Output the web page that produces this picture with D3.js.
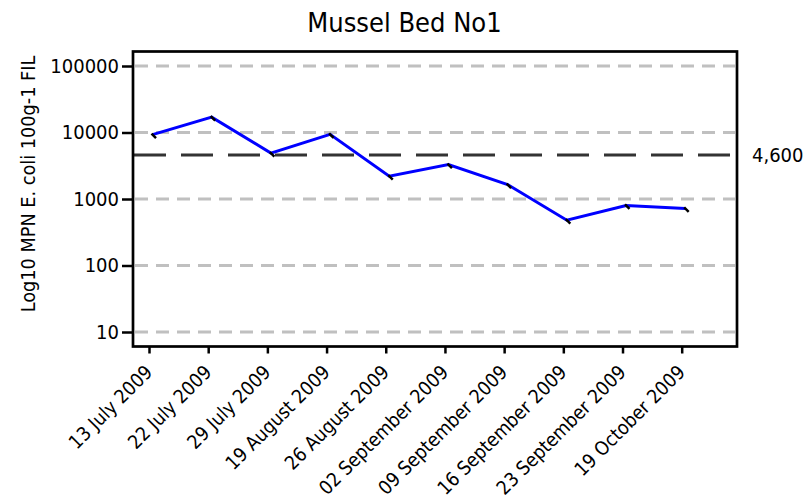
<!DOCTYPE html>
<html>
<head>
<meta charset="utf-8">
<script src="https://cdn.jsdelivr.net/npm/d3@7"></script>
<style>
  html, body { margin: 0; padding: 0; background: #fff; }
  svg text { font-family: "DejaVu Sans Condensed", "DejaVu Sans", sans-serif; font-stretch: condensed; fill: #000; }
</style>
</head>
<body>
<svg id="chart" width="809" height="503"></svg>
<script>
// Sampling dates (x categories)
const dates = [
  "13 July 2009", "22 July 2009", "29 July 2009", "19 August 2009",
  "26 August 2009", "02 September 2009", "09 September 2009",
  "16 September 2009", "23 September 2009", "19 October 2009"
];
// E. coli results, MPN per 100 g FIL
const ecoli = [9300, 17000, 4900, 9400, 2200, 3300, 1650, 480, 800, 720];
// Log-axis tick values
const yTicks = [10, 100, 1000, 10000, 100000];
// Reference threshold
const threshold = 4600;

const svg = d3.select("#chart");

const frame = { left: 133, right: 737, top: 51.5, bottom: 346.5 };

const x = d3.scalePoint().domain(dates).range([149, 681.7]);
const y = d3.scaleLog().domain([10, 100000]).range([332, 66]);

// Title
svg.append("text")
  .attr("x", 404.5).attr("y", 32)
  .attr("text-anchor", "middle")
  .style("font-size", "27px")
  .text("Mussel Bed No1");

// Y-axis title
svg.append("text")
  .attr("transform", "translate(35,184) rotate(-90)")
  .attr("text-anchor", "middle")
  .style("font-size", "19.7px")
  .text("Log10 MPN E. coli 100g-1 FIL");

// Horizontal dashed gridlines at each decade
svg.append("g")
  .selectAll("line")
  .data(yTicks)
  .join("line")
  .attr("x1", frame.left + 2).attr("x2", frame.right - 2)
  .attr("y1", d => y(d)).attr("y2", d => y(d))
  .attr("stroke", "#c0c0c0")
  .attr("stroke-width", 3)
  .attr("stroke-dasharray", "13,8");

// Threshold line
svg.append("line")
  .attr("x1", frame.left + 1).attr("x2", frame.right - 3)
  .attr("y1", y(threshold)).attr("y2", y(threshold))
  .attr("stroke", "#333")
  .attr("stroke-width", 3)
  .attr("stroke-dasharray", "32,15");

svg.append("text")
  .attr("x", 752).attr("y", y(threshold))
  .attr("dy", "0.36em")
  .style("font-size", "20px")
  .text(d3.format(",")(threshold));

// Y axis
const yAxis = d3.axisLeft(y)
  .tickValues(yTicks)
  .tickFormat(d3.format("d"))
  .tickSize(11)
  .tickPadding(3);
const gy = svg.append("g")
  .attr("transform", `translate(${frame.left},0)`)
  .call(yAxis);
gy.select(".domain").remove();
gy.selectAll(".tick line").attr("stroke", "#000").attr("stroke-width", 2.5);
gy.selectAll(".tick text").style("font-size", "20px").attr("font-family", null);

// X axis
const xAxis = d3.axisBottom(x).tickSize(7).tickSizeOuter(0);
const gx = svg.append("g")
  .attr("transform", `translate(0,${frame.bottom})`)
  .call(xAxis);
gx.select(".domain").remove();
gx.selectAll(".tick line").attr("stroke", "#000").attr("stroke-width", 2.5);
gx.selectAll(".tick text")
  .style("font-size", "19.3px")
  .attr("font-family", null)
  .attr("text-anchor", "end")
  .attr("y", 0).attr("dy", 0)
  .attr("transform", "translate(4,27) rotate(-45)");

// Plot frame
svg.append("rect")
  .attr("x", frame.left).attr("y", frame.top)
  .attr("width", frame.right - frame.left)
  .attr("height", frame.bottom - frame.top)
  .attr("fill", "none")
  .attr("stroke", "#000")
  .attr("stroke-width", 2.7);

// Data series
const px = d => x(d) + 3.5;
const pts = dates.map((d, i) => [px(d), y(ecoli[i])]);

svg.append("path")
  .datum(pts)
  .attr("d", d3.line())
  .attr("fill", "none")
  .attr("stroke", "#0000ff")
  .attr("stroke-width", 3)
  .attr("stroke-linejoin", "miter");

// Point markers
svg.append("g")
  .selectAll("line")
  .data(pts)
  .join("line")
  .attr("x1", d => d[0] - 1).attr("y1", d => d[1] - 1)
  .attr("x2", d => d[0] + 3.5).attr("y2", d => d[1] + 3.5)
  .attr("stroke", "#000")
  .attr("stroke-width", 2.5);
</script>
</body>
</html>
